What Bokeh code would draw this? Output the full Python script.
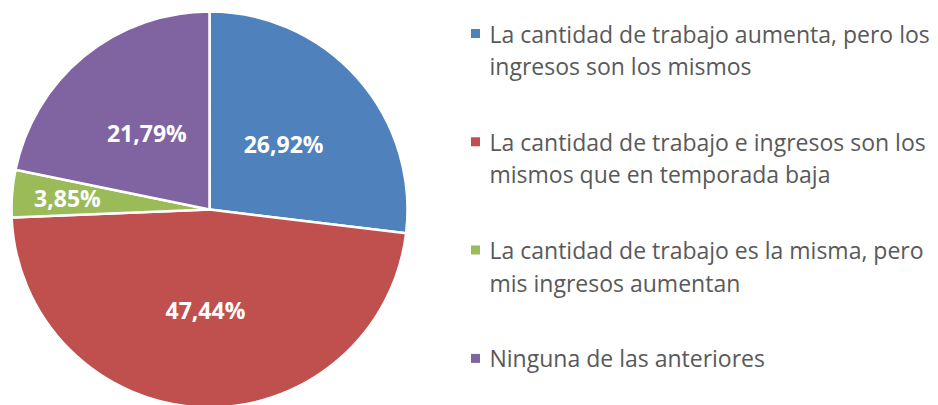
import math
from bokeh.plotting import figure
from bokeh.models import Range1d, ColumnDataSource
from bokeh.core.properties import value
from bokeh.embed import file_html
from bokeh.resources import INLINE

categories = [
    "La cantidad de trabajo aumenta, pero los ingresos son los mismos",
    "La cantidad de trabajo e ingresos son los mismos que en temporada baja",
    "La cantidad de trabajo es la misma, pero mis ingresos aumentan",
    "Ninguna de las anteriores",
]
legend_lines = [
    ["La cantidad de trabajo aumenta, pero los", "ingresos son los mismos"],
    ["La cantidad de trabajo e ingresos son los", "mismos que en temporada baja"],
    ["La cantidad de trabajo es la misma, pero", "mis ingresos aumentan"],
    ["Ninguna de las anteriores"],
]
percentages = [26.92, 47.44, 3.85, 21.79]
pct_labels = ["26,92%", "47,44%", "3,85%", "21,79%"]
colors = ["#4F81BD", "#C0504D", "#9BBB59", "#8064A2"]
label_rfac = [0.5, 0.51, 0.72, 0.5]

W, H = 930, 405
p = figure(width=W, height=H, output_backend="svg", toolbar_location=None,
           x_range=Range1d(0, W), y_range=Range1d(0, H),
           min_border=0, outline_line_color=None)
p.axis.visible = False
p.grid.visible = False
p.background_fill_color = "white"
p.border_fill_color = "white"

def sy(y):
    return H - y

cx, cy, R = 209, sy(209), 198
total = sum(percentages)
starts, ends, lx, ly = [], [], [], []
acc = 0.0
for v, f in zip(percentages, label_rfac):
    a0 = math.pi / 2 - 2 * math.pi * acc / total
    acc += v
    a1 = math.pi / 2 - 2 * math.pi * acc / total
    starts.append(a0)
    ends.append(a1)
    mid = (a0 + a1) / 2
    lx.append(cx + f * R * math.cos(mid))
    ly.append(cy + f * R * math.sin(mid))

src = ColumnDataSource(dict(start=starts, end=ends, color=colors,
                            lx=lx, ly=ly, lab=pct_labels))
p.wedge(x=cx, y=cy, radius=R, radius_units="screen", start_angle="start",
        end_angle="end", direction="clock", fill_color="color",
        line_color="white", line_width=2.5, source=src)
p.text(x="lx", y="ly", text="lab", source=src, text_color="white",
       text_font=value("Open Sans"), text_font_style="bold",
       text_font_size="23px", text_align="center", text_baseline="middle")

# legend
sq_x, tx = 475, 489
item_y0, item_step, line_step = 33, 108.3, 32.5
sqx, sqy, sqc = [], [], []
tx_l, ty_l, tt_l = [], [], []
for i, lines in enumerate(legend_lines):
    y0 = item_y0 + i * item_step
    sqx.append(sq_x); sqy.append(sy(y0)); sqc.append(colors[i])
    for j, line in enumerate(lines):
        tx_l.append(tx); ty_l.append(sy(y0 + j * line_step)); tt_l.append(line)
p.scatter(x=sqx, y=sqy, marker="square", size=9, fill_color=sqc, line_color=None)
p.text(x=tx_l, y=ty_l, text=tt_l, text_color="#595959",
       text_font=value("Open Sans"), text_font_size="23px",
       text_align="left", text_baseline="middle")

open("out.html", "w").write(file_html(p, INLINE))
